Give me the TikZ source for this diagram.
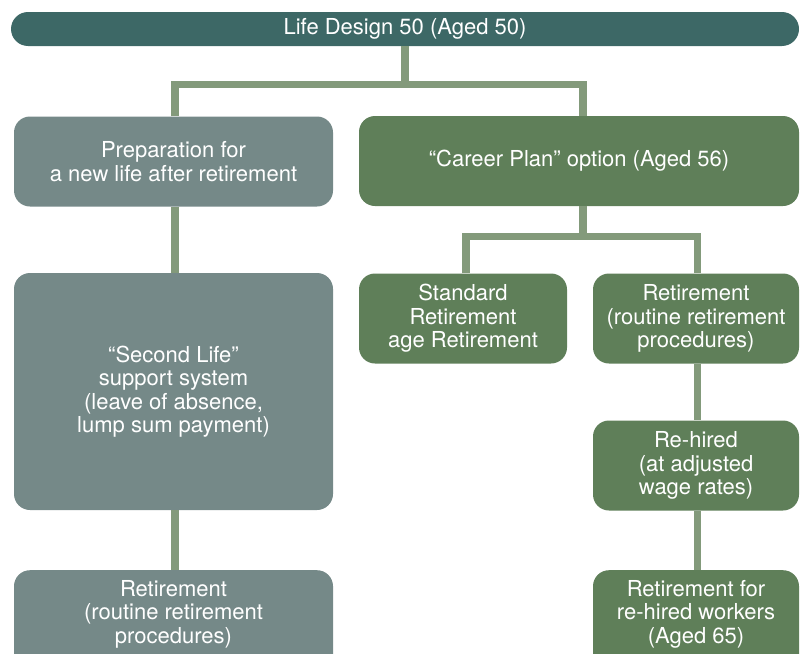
\documentclass[tikz,border=0pt]{standalone}
\usepackage{fontspec}
\setmainfont{TeX Gyre Heros}
\definecolor{topc}{HTML}{3D6866}
\definecolor{grayc}{HTML}{758988}
\definecolor{greenc}{HTML}{5F7F59}
\definecolor{connc}{HTML}{839A7B}
\begin{document}
\begin{tikzpicture}[x=1pt,y=-1pt,
  box/.style={rectangle, rounded corners=16pt, text=white, align=center,
    font=\fontsize{22}{23.5}\selectfont, inner sep=0pt},
  gbox/.style={box, fill=grayc},
  vbox/.style={box, fill=greenc},
  txt/.style={text=white, align=center, font=\fontsize{22}{23.5}\selectfont, inner sep=0pt},
  conn/.style={draw=connc, line width=7.5pt}]
\useasboundingbox (0,0) rectangle (800,653);
\clip (0,0) rectangle (800,653);
% top bar
\node[box, fill=topc, rounded corners=17pt, minimum width=788pt, minimum height=34pt] (top) at (405,29) {Life Design 50 (Aged 50)};
% left column
\node[gbox, minimum width=319pt, minimum height=90pt] (l1) at (173.5,161.5) {Preparation for\\a new life after retirement};
\node[gbox, minimum width=319pt, minimum height=237pt] (l2) at (173.5,391.5) {“Second Life”\\support system\\(leave of absence,\\lump sum payment)};
\node[gbox, minimum width=319pt, minimum height=110pt, anchor=north] (l3) at (173.5,570) {};
\node[txt] (l3t) at (173.5,614) {Retirement\\(routine retirement\\procedures)};
% right column
\node[vbox, minimum width=440pt, minimum height=90pt] (r1) at (579,161) {“Career Plan” option (Aged 56)};
\node[vbox, minimum width=208pt, minimum height=90pt] (r2a) at (463,318.5) {Standard\\Retirement\\age Retirement};
\node[vbox, minimum width=206pt, minimum height=90pt] (r2b) at (696,318.5) {Retirement\\(routine retirement\\procedures)};
\node[vbox, minimum width=206pt, minimum height=90pt] (r3) at (696,465.5) {Re-hired\\(at adjusted\\wage rates)};
\node[vbox, minimum width=206pt, minimum height=110pt, anchor=north] (r4) at (696,570) {};
\node[txt] (r4t) at (696,614) {Retirement for\\re-hired workers\\(Aged 65)};
% connectors
\draw[conn] (top.south) -- ++(0,38);
\draw[conn] ([xshift=1.5pt]l1.north) -- ++(0,-32) -| ([xshift=4pt]r1.north);
\draw[conn] ([xshift=1.5pt]l1.south) -- ([xshift=1.5pt]l2.north);
\draw[conn] ([xshift=1.5pt]l2.south) -- ([xshift=1.5pt]l3.north);
\draw[conn] ([xshift=4pt]r1.south) -- ++(0,30);
\draw[conn] ([xshift=3pt]r2a.north) -- ++(0,-37) -| ([xshift=1.5pt]r2b.north);
\draw[conn] ([xshift=1.5pt]r2b.south) -- ([xshift=1.5pt]r3.north);
\draw[conn] ([xshift=1.5pt]r3.south) -- ([xshift=1.5pt]r4.north);
\end{tikzpicture}
\end{document}
